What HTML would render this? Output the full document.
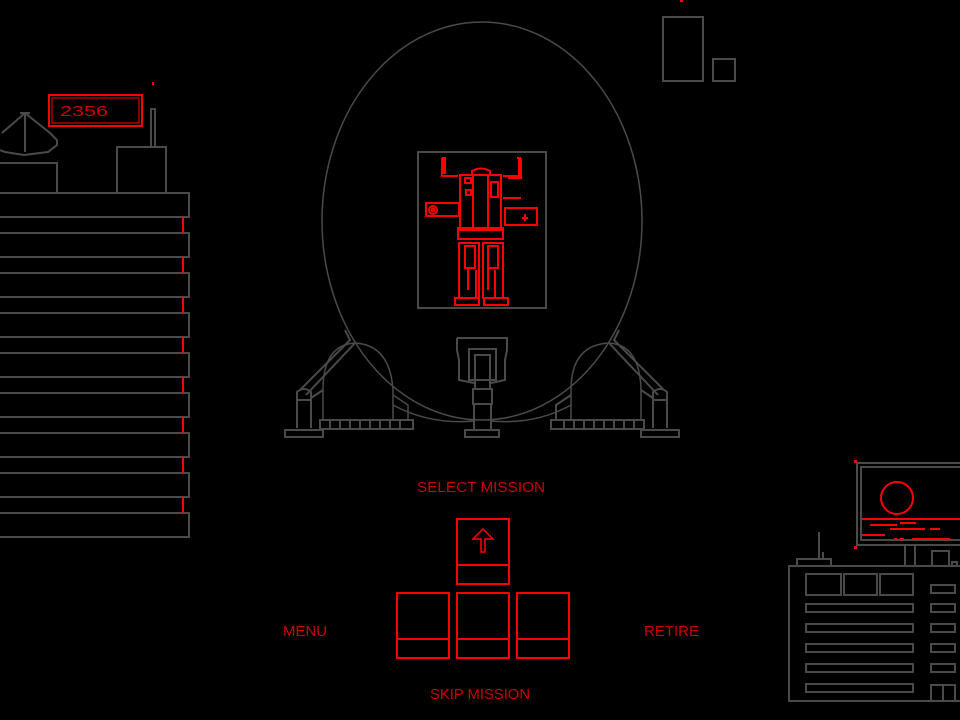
<!DOCTYPE html>
<html><head><style>
html,body{margin:0;padding:0;background:#000;width:960px;height:720px;overflow:hidden}
svg{display:block}
text{font-family:"Liberation Sans",sans-serif;fill:#c00;font-size:15px}
</style></head><body>
<svg width="960" height="720" viewBox="0 0 960 720" xmlns="http://www.w3.org/2000/svg">
<rect width="960" height="720" fill="#000"/>
<g fill="none" stroke="#4a4a4a" stroke-width="2">
<!-- left building -->
<rect x="-2" y="193" width="191" height="24"/>
<rect x="-2" y="233" width="191" height="24"/>
<rect x="-2" y="273" width="191" height="24"/>
<rect x="-2" y="313" width="191" height="24"/>
<rect x="-2" y="353" width="191" height="24"/>
<rect x="-2" y="393" width="191" height="24"/>
<rect x="-2" y="433" width="191" height="24"/>
<rect x="-2" y="473" width="191" height="24"/>
<rect x="-2" y="513" width="191" height="24"/>
<rect x="-2" y="163" width="59" height="30"/>
<rect x="117" y="147" width="49" height="46"/>
<rect x="151" y="109" width="4" height="38"/>
<path d="M2 133 L25 113 L50 133 L57 140 L57 145 L48 152 L24 155 L5 152 L0 150 M25 112 V152 M20 113 H30"/>
<!-- top right -->
<rect x="663" y="17" width="40" height="64"/>
<rect x="713" y="59" width="22" height="22"/>
<!-- ellipse -->
<ellipse cx="482" cy="221" rx="160" ry="199" stroke-width="1.5"/>
<rect x="418" y="152" width="128" height="156"/>
<!-- left leg structure -->
<path d="M323 420 V390 Q323 345 355 343 Q390 345 393 390 V420" stroke-width="1.5"/>
<rect x="320" y="420" width="93" height="9"/>
<path d="M330 420v9M340 420v9M350 420v9M360 420v9M370 420v9M380 420v9M390 420v9M400 420v9"/>
<rect x="285" y="430" width="38" height="7"/>
<path d="M297 428 V392 Q304 386 311 392 V428 M297 400 H311" />
<path d="M300 390 L350 340 L345 330 M306 395 L355 343 M311 398 L323 390"/>
<path d="M393 395 L408 405 V420 M393 405 Q430 425 474 421 M491 421 Q535 425 571 405" stroke-width="1.5"/>
<!-- right leg structure -->
<path d="M571 420 V390 Q571 345 609 343 Q640 345 641 390 V420" stroke-width="1.5"/>
<rect x="551" y="420" width="93" height="9"/>
<path d="M564 420v9M574 420v9M584 420v9M594 420v9M604 420v9M614 420v9M624 420v9M634 420v9"/>
<rect x="641" y="430" width="38" height="7"/>
<path d="M653 428 V392 Q660 386 667 392 V428 M653 400 H667"/>
<path d="M664 390 L614 340 L619 330 M658 395 L609 343 M653 398 L641 390 M571 395 L556 405 V420"/>
<!-- center column -->
<rect x="465" y="430" width="34" height="7"/>
<rect x="474" y="404" width="17" height="26"/>
<rect x="473" y="389" width="19" height="15"/>
<path d="M457 338 H507 V350 L505 360 V380 L491 383 M457 338 V350 L459 360 V380 L474 383"/>
<rect x="469" y="349" width="27" height="31"/>
<rect x="475" y="355" width="15" height="34"/>
<!-- right building -->
<rect x="789" y="566" width="175" height="135"/>
<rect x="806" y="574" width="35" height="21"/>
<rect x="844" y="574" width="33" height="21"/>
<rect x="880" y="574" width="33" height="21"/>
<rect x="806" y="604" width="107" height="8"/>
<rect x="806" y="624" width="107" height="8"/>
<rect x="806" y="644" width="107" height="8"/>
<rect x="806" y="664" width="107" height="8"/>
<rect x="806" y="684" width="107" height="8"/>
<rect x="931" y="585" width="24" height="8"/>
<rect x="931" y="604" width="24" height="8"/>
<rect x="931" y="624" width="24" height="8"/>
<rect x="931" y="644" width="24" height="8"/>
<rect x="931" y="664" width="24" height="8"/>
<path d="M931 701 V685 H955 V701 M943 685 V701"/>
<rect x="797" y="559" width="34" height="7"/>
<path d="M819 532 V559 M823 552 V559"/>
<rect x="857" y="463" width="110" height="82"/>
<rect x="861" y="467" width="106" height="73"/>
<path d="M905 545 V566 M915 545 V566"/>
<rect x="932" y="551" width="17" height="15"/>
<rect x="952" y="562" width="5" height="4"/>
</g>
<!-- red details -->
<g fill="none" stroke="#f00" stroke-width="2">
<path d="M183 217V233M183 257V273M183 297V313M183 337V353M183 377V393M183 417V433M183 457V473M183 497V513"/>
<rect x="49" y="95" width="93" height="31"/>
<rect x="52" y="98" width="87" height="25" stroke-width="1"/>
<circle cx="897" cy="498" r="16"/>
<path d="M862 519H960M870 525H897M900 523H916M890 529H925M930 529H940M862 535H885M894 539H897M900 539H904M912 539H950"/>
<!-- robot -->
<path d="M442 158V176H458M444 158V174 M519 158V176H503M521 158V178H508"/>
<path d="M442 158h3v16M517 158h4"/>
<rect x="460" y="175" width="41" height="55"/>
<path d="M472 175V171Q481 166 490 171V175M473 175V230M488 175V230"/>
<rect x="465" y="178" width="6" height="5"/>
<rect x="466" y="190" width="5" height="5"/>
<rect x="491" y="182" width="7" height="15"/>
<rect x="426" y="203" width="33" height="13"/>
<circle cx="433" cy="210" r="4"/>
<circle cx="433" cy="210" r="1.5"/>
<rect x="505" y="208" width="32" height="17"/>
<path d="M525 214V221M522 218H528M503 198H521"/>
<rect x="458" y="228" width="45" height="11"/>
<rect x="459" y="243" width="20" height="55"/>
<rect x="483" y="243" width="20" height="55"/>
<rect x="465" y="246" width="10" height="22"/>
<rect x="488" y="246" width="10" height="22"/>
<path d="M468 268V290M488 268V290M476 270V298M495 270V298"/>
<rect x="455" y="298" width="24" height="7"/>
<rect x="484" y="298" width="24" height="7"/>
<!-- keys -->
<rect x="457" y="519" width="52" height="65"/>
<path d="M457 565H509"/>
<rect x="397" y="593" width="52" height="65"/>
<rect x="457" y="593" width="52" height="65"/>
<rect x="517" y="593" width="52" height="65"/>
<path d="M397 639H449M457 639H509M517 639H569"/>
<path d="M483 529L473 539H481V552H485V539H493Z" stroke-width="1.5"/>
</g>
<g fill="#f00">
<rect x="152" y="82" width="2" height="3"/>
<rect x="680" y="0" width="3" height="2"/>
<rect x="854" y="460" width="3" height="3"/>
<rect x="854" y="546" width="3" height="3"/>
</g>
<text x="60" y="116" font-size="16" textLength="48" lengthAdjust="spacingAndGlyphs">2356</text>
<text x="417" y="492" textLength="128" lengthAdjust="spacingAndGlyphs">SELECT MISSION</text>
<text x="283" y="636" textLength="44" lengthAdjust="spacingAndGlyphs">MENU</text>
<text x="644" y="636" textLength="55" lengthAdjust="spacingAndGlyphs">RETIRE</text>
<text x="430" y="699" textLength="100" lengthAdjust="spacingAndGlyphs">SKIP MISSION</text>
</svg>
</body></html>
